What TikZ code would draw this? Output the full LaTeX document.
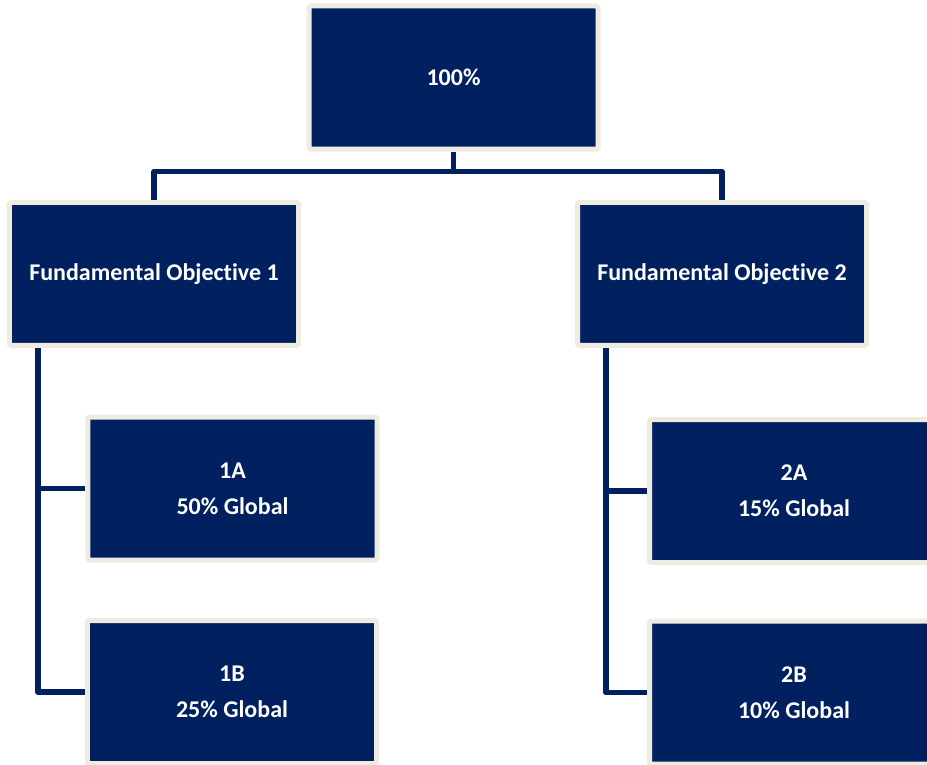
\documentclass[tikz,border=0pt]{standalone}
\usepackage{fontspec}
\setmainfont{Carlito}[Ligatures=NoCommon]
\definecolor{navy}{HTML}{002060}
\definecolor{cream}{HTML}{EEECE1}
\begin{document}
\begin{tikzpicture}[x=1bp,y=-1bp,
  box/.style={rectangle, fill=navy, draw=cream, line width=5bp,
    minimum width=289bp, minimum height=143bp, inner sep=0pt,
    rounded corners=1.5bp, align=center, text=white,
    font=\fontsize{24bp}{36bp}\selectfont\bfseries},
  link/.style={draw=navy, line width=5.5bp, line join=round}]
  \useasboundingbox (0,0) rectangle (927,765);

  % boxes
  \node[box] (top) at (453.5,77.5) {100\%};
  \node[box] (fo1) at (154,273.8) {Fundamental Objective 1};
  \node[box] (fo2) at (722,273.8) {Fundamental Objective 2};
  \node[box] (a1) at (232.5,488.5) {1A\\50\% Global};
  \node[box] (b1) at (232,692) {1B\\25\% Global};
  \node[box] (a2) at (794,491) {2A\\15\% Global};
  \node[box] (b2) at (794,692.7) {2B\\10\% Global};

  % top level branch
  \coordinate (bar) at ([yshift=-20bp]top.south);
  \draw[link] (top.south) -- (bar);
  \draw[link] (fo1.north) |- (bar) -| (fo2.north);

  % sub-objective spines
  \coordinate (s1) at ([xshift=31bp]fo1.south west);
  \coordinate (s2) at ([xshift=31bp]fo2.south west);
  \draw[link] (s1) |- (b1.west);
  \draw[link] (s1 |- a1.west) -- (a1.west);
  \draw[link] (s2) |- (b2.west);
  \draw[link] (s2 |- a2.west) -- (a2.west);
\end{tikzpicture}
\end{document}
